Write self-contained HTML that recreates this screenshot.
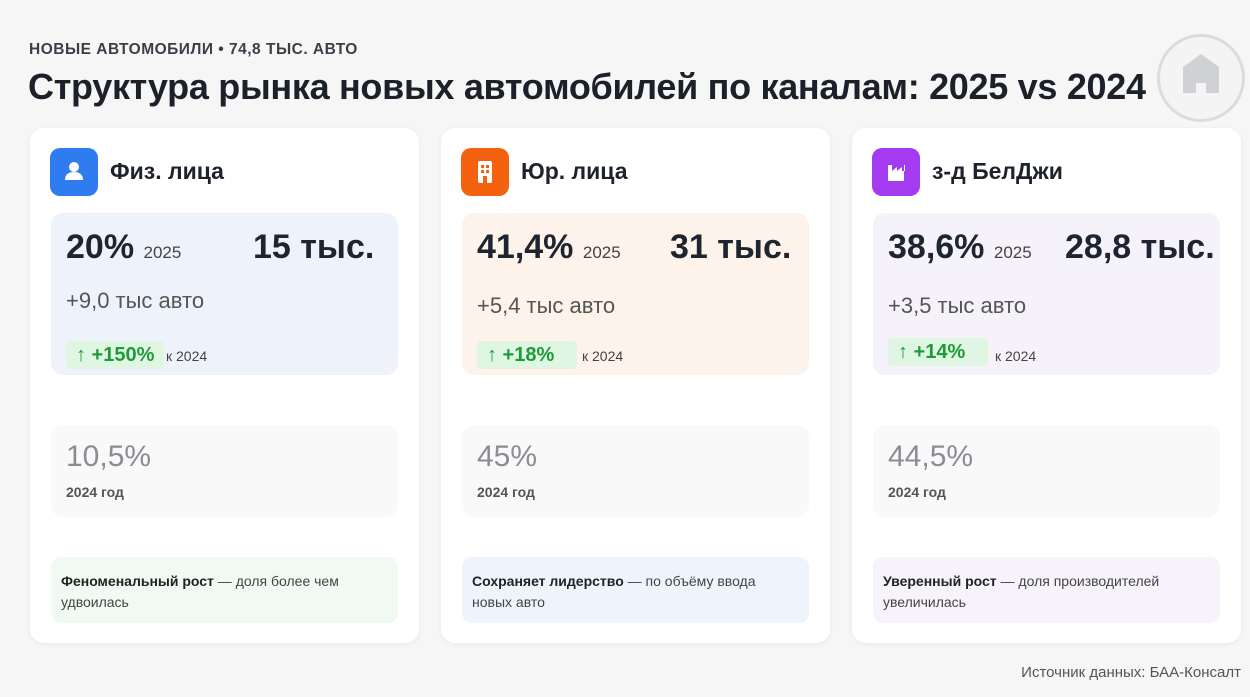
<!DOCTYPE html>
<html><head><meta charset="utf-8"><style>
*{box-sizing:border-box;margin:0;padding:0}
body{width:1250px;height:697px;background:#f6f6f7;font-family:"Liberation Sans","DejaVu Sans",sans-serif;position:relative;overflow:hidden;color:#1d222b}
.abs{position:absolute}
.sub{left:29px;top:41px;font-size:15.5px;font-weight:bold;color:#3a3f47;letter-spacing:.5px}
.title{left:28px;top:66px;font-size:36px;font-weight:bold;color:#1c2028;letter-spacing:-.3px}
.home{left:1157px;top:34px;width:88px;height:88px;border-radius:50%;border:3px solid #dcdcde;background:#f4f4f5}
.card{top:128px;width:389px;height:515px;background:#fff;border-radius:14px;box-shadow:0 1px 6px rgba(0,0,0,.06)}
.ic{left:20px;top:20px;width:48px;height:48px;border-radius:10px}
.name{left:80px;top:30px;font-size:23px;font-weight:bold;color:#1d222b}
.top{left:21px;top:85px;width:347px;height:162px;border-radius:12px}
.big{top:100px;font-size:34px;font-weight:bold;color:#1f2530}
.yr{font-size:17px;font-weight:normal;color:#444}
.inc{left:36px;top:160px;font-size:22px;color:#555}
.badge{left:36px;top:213px;height:28px;border-radius:4px;background:#dff6e3;color:#1f9a3b;font-weight:bold;font-size:20px;line-height:28px;padding:0 10px}
.k{top:220px;font-size:14px;color:#444}
.old{left:21px;top:297px;width:347px;height:92px;border-radius:12px;background:#f9f9fa}
.oldv{left:36px;top:312px;font-size:30px;color:#8a8d93}
.oldy{left:36px;top:356px;font-size:14px;color:#555;font-weight:bold}
.note{left:21px;top:429px;width:347px;height:66px;border-radius:10px}
.nt{left:31px;top:443px;width:320px;font-size:14px;line-height:21px;color:#444}
.nt b{color:#222}
.src{right:9px;top:664px;font-size:15px;color:#555}
</style></head><body>
<div class="abs sub">НОВЫЕ АВТОМОБИЛИ • 74,8 ТЫС. АВТО</div>
<div class="abs title">Структура рынка новых автомобилей по каналам: 2025 vs 2024</div>
<div class="abs home"><svg width="82" height="82" viewBox="0 0 82 82"><path d="M23 56V30L41 17L59 30V56H46V46H36V56Z" fill="#d0d1d4"/></svg></div>

<div class="abs card" style="left:30px">
 <div class="abs ic" style="background:#2f7cf0"><svg width="48" height="48"><circle cx="24" cy="19" r="5" fill="#fff"/><path d="M15 32c0-6 4-8 9-8s9 2 9 8z" fill="#fff"/></svg></div>
 <div class="abs name">Физ. лица</div>
 <div class="abs top" style="background:#eef3fb"></div>
 <div class="abs big" style="left:36px">20% <span class="yr">2025</span></div>
 <div class="abs big" style="left:223px">15 тыс.</div>
 <div class="abs inc">+9,0 тыс авто</div>
 <div class="abs badge">↑ +150%</div>
 <div class="abs k" style="left:136px">к 2024</div>
 <div class="abs old"></div>
 <div class="abs oldv">10,5%</div>
 <div class="abs oldy">2024 год</div>
 <div class="abs note" style="background:#f0faf2"></div>
 <div class="abs nt"><b>Феноменальный рост</b> — доля более чем удвоилась</div>
</div>

<div class="abs card" style="left:441px">
 <div class="abs ic" style="background:#f5620f"><svg width="48" height="48"><rect x="17" y="13" width="14" height="22" rx="2" fill="#fff"/><g fill="#f5620f"><rect x="20" y="17" width="3" height="3"/><rect x="25" y="17" width="3" height="3"/><rect x="20" y="22" width="3" height="3"/><rect x="25" y="22" width="3" height="3"/><rect x="22" y="28" width="4" height="7"/></g></svg></div>
 <div class="abs name">Юр. лица</div>
 <div class="abs top" style="background:#fdf3ea"></div>
 <div class="abs big" style="left:36px">41,4% <span class="yr">2025</span></div>
 <div class="abs big" style="left:229px">31 тыс.</div>
 <div class="abs inc" style="top:165px">+5,4 тыс авто</div>
 <div class="abs badge" style="width:100px">↑ +18%</div>
 <div class="abs k" style="left:141px">к 2024</div>
 <div class="abs old"></div>
 <div class="abs oldv">45%</div>
 <div class="abs oldy">2024 год</div>
 <div class="abs note" style="background:#eef4fc"></div>
 <div class="abs nt"><b>Сохраняет лидерство</b> — по объёму ввода новых авто</div>
</div>

<div class="abs card" style="left:852px">
 <div class="abs ic" style="background:#a43bf0"><svg width="48" height="48"><path d="M16 33V17h4v6l5-4v4l5-4v4h3V17h-1v16z" fill="#fff"/></svg></div>
 <div class="abs name">з-д БелДжи</div>
 <div class="abs top" style="background:#f6f2fa"></div>
 <div class="abs big" style="left:36px">38,6% <span class="yr">2025</span></div>
 <div class="abs big" style="left:213px">28,8 тыс.</div>
 <div class="abs inc" style="top:165px">+3,5 тыс авто</div>
 <div class="abs badge" style="width:100px;top:210px">↑ +14%</div>
 <div class="abs k" style="left:143px">к 2024</div>
 <div class="abs old"></div>
 <div class="abs oldv">44,5%</div>
 <div class="abs oldy">2024 год</div>
 <div class="abs note" style="background:#f7f3fb"></div>
 <div class="abs nt"><b>Уверенный рост</b> — доля производителей увеличилась</div>
</div>

<div class="abs src">Источник данных: БАА-Консалт</div>
</body></html>
